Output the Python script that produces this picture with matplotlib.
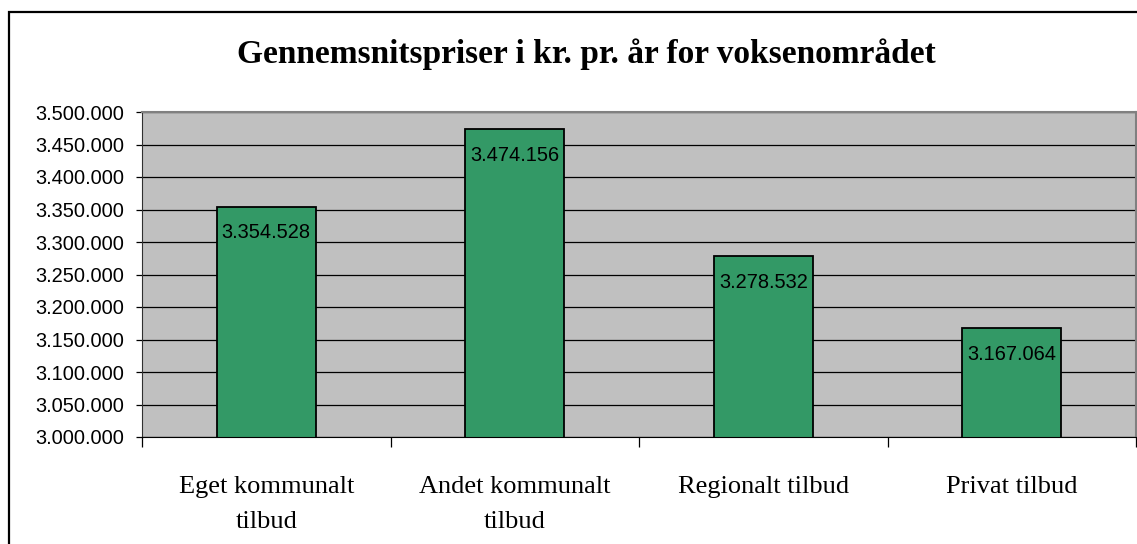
"""Gennemsnitspriser i kr. pr. år for voksenområdet - bar chart."""
import matplotlib
matplotlib.use("Agg")
import matplotlib.pyplot as plt
from matplotlib.patches import Rectangle
from matplotlib.ticker import FuncFormatter, MultipleLocator

categories = ["Eget kommunalt\ntilbud", "Andet kommunalt\ntilbud", "Regionalt tilbud", "Privat tilbud"]
prices = [3354528, 3474156, 3278532, 3167064]
title = "Gennemsnitspriser i kr. pr. år for voksenområdet"


def dk(v, pos=None):
    """Danish thousands separator"""
    return f"{v:,.0f}".replace(",", ".")


W, H = 1137, 544
fig = plt.figure(figsize=(W / 100, H / 100), dpi=100)
ax = fig.add_axes([142 / W, (H - 437) / H, (1136 - 142) / W, (437 - 112) / H])

x = range(len(prices))
bars = ax.bar(x, prices, width=0.4, color="#339966", edgecolor="black", linewidth=1.3, zorder=2)
ax.set_facecolor("#c0c0c0")
ax.set_axisbelow(True)
ax.yaxis.grid(True, color="black", linewidth=0.9)

ax.set_ylim(3000000, 3500000)
ax.set_xlim(-0.5, len(prices) - 0.5)
ax.yaxis.set_major_locator(MultipleLocator(50000))
ax.yaxis.set_major_formatter(FuncFormatter(dk))
ax.tick_params(axis="y", length=4, width=0.9, pad=9, labelsize=14.4)
for lab in ax.get_yticklabels():
    lab.set_family("Liberation Sans")

ax.set_xticks(list(x))
ax.set_xticklabels(categories, family="Liberation Serif", fontsize=19, linespacing=1.8)
ax.tick_params(axis="x", length=0, pad=28)
ax.set_xticks([i - 0.5 for i in range(len(prices) + 1)], minor=True)
ax.tick_params(axis="x", which="minor", length=7, width=0.9)

for s in ["top", "right"]:
    ax.spines[s].set_color("#808080")
    ax.spines[s].set_linewidth(1.5)
ax.spines["left"].set_color("#303030")
ax.spines["bottom"].set_color("black")

for b, v in zip(bars, prices):
    ax.annotate(dk(v), (b.get_x() + b.get_width() / 2, v), xytext=(0, -19),
                textcoords="offset points", ha="center", va="center",
                family="Liberation Sans", fontsize=14.4, zorder=3)

fig.text(586 / W, 1 - 54 / H, title, ha="center", va="center",
         family="Liberation Serif", fontweight="bold", fontsize=24)

# frame of the chart area, cut off at the right and bottom
fig.add_artist(Rectangle((9 / W, -0.1), 1.2, 1.1 - 12 / H, transform=fig.transFigure,
                         fill=False, edgecolor="black", linewidth=1.6))

fig.savefig("out.png", dpi=100)
